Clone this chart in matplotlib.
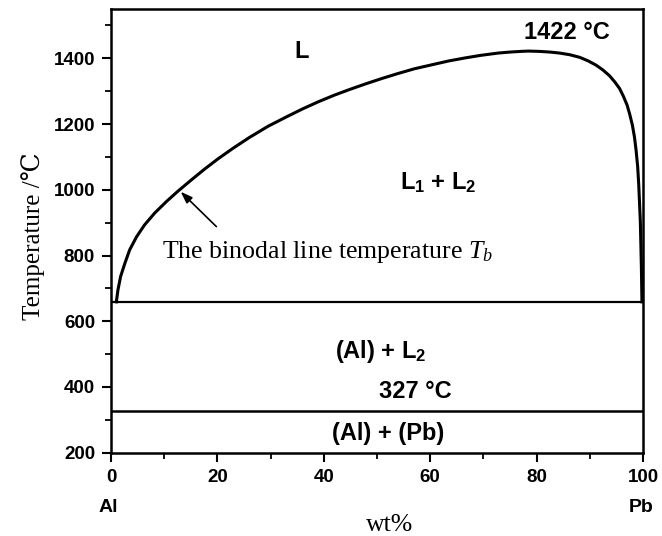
import matplotlib
matplotlib.use('Agg')
import matplotlib.pyplot as plt
from matplotlib.ticker import MultipleLocator

plt.rcParams['font.family'] = ['Liberation Sans', 'DejaVu Sans']
plt.rcParams['font.weight'] = 'bold'
plt.rcParams['mathtext.fontset'] = 'custom'
plt.rcParams['mathtext.it'] = 'Liberation Serif:style=italic:weight=normal'
plt.rcParams['mathtext.rm'] = 'Liberation Serif:weight=normal'
plt.rcParams['mathtext.sf'] = 'Liberation Sans:weight=bold'

# binodal (liquid miscibility gap), wt% Pb vs T in C
binodal_wt = [1.0, 1.3, 1.8, 2.6, 3.5, 4.8, 6.3, 8.2, 10.4, 12.6, 15.1, 17.6, 20.1,
              23.0, 26.0, 29.5, 33.0, 36.0, 39.0, 42.0, 45.0, 48.0, 51.0, 54.0, 57.0,
              60.5, 63.5, 66.5, 69.5, 72.8, 75.0, 77.0, 78.5, 80.6, 82.5, 84.3, 86.2,
              88.1, 89.7, 91.2, 92.5, 93.7, 94.7, 95.6, 96.3, 97.0, 97.5, 98.0, 98.4,
              98.7, 99.0, 99.2, 99.5, 99.7, 99.8]
binodal_T = [659, 695, 736, 776, 817, 857, 893, 929, 964, 996, 1030, 1063, 1094,
             1127, 1159, 1193, 1222, 1246, 1268, 1288, 1306, 1323, 1339, 1354, 1368,
             1381, 1392, 1401, 1409, 1416, 1419, 1421, 1422, 1421, 1419, 1416, 1411,
             1403, 1392, 1379, 1364, 1347, 1328, 1308, 1285, 1258, 1230, 1197, 1160,
             1120, 1070, 1015, 903, 761, 659]

monotectic_T = 659
eutectic_T = 327

x_ticks = [0, 20, 40, 60, 80, 100]
y_ticks = [200, 400, 600, 800, 1000, 1200, 1400]

fig = plt.figure(figsize=(6.62, 5.36), dpi=100)
ax = fig.add_axes([0.1677, 0.1554, 0.8036, 0.8278])

ax.plot(binodal_wt, binodal_T, color='k', lw=2.2, solid_joinstyle='round')
ax.plot([0, 100], [monotectic_T, monotectic_T], color='k', lw=1.6)
ax.plot([0, 100], [eutectic_T, eutectic_T], color='k', lw=1.8)

ax.set_xlim(0, 100)
ax.set_ylim(200, 1550)
ax.set_xticks(x_ticks)
ax.set_yticks(y_ticks)
ax.xaxis.set_minor_locator(MultipleLocator(10))
ax.yaxis.set_minor_locator(MultipleLocator(100))
ax.tick_params(which='major', direction='out', length=6.5, width=1.5, labelsize=13.5, pad=5)
ax.tick_params(which='minor', direction='out', length=4, width=1.3)
ax.tick_params(top=False, right=False, which='both')
for s in ax.spines.values():
    s.set_linewidth(1.8)

# phase region labels
ax.text(35.8, 1420, 'L', fontsize=17, fontweight='bold', ha='center', va='center')
ax.text(85.7, 1479, '1422 °C', fontsize=17, fontweight='bold', ha='center', va='center')
ax.text(61.5, 1020, r'L$_\mathsf{1}$ + L$_\mathsf{2}$', fontsize=17, fontweight='bold',
        ha='center', va='center')
ax.text(50.7, 507, r'(Al) + L$_\mathsf{2}$', fontsize=17, fontweight='bold', ha='center', va='center')
ax.text(57.2, 386, '327 °C', fontsize=17, fontweight='bold', ha='center', va='center')
ax.text(52.1, 257, '(Al) + (Pb)', fontsize=17, fontweight='bold', ha='center', va='center')

ax.text(9.6, 793, r'The binodal line temperature $T_b$', fontsize=18.6,
        family='Liberation Serif', fontweight='normal', ha='left', va='baseline')
ax.annotate('', xy=(13.1, 994), xytext=(19.8, 888),
            arrowprops=dict(arrowstyle='-|>,head_length=0.7,head_width=0.25',
                            color='k', lw=1.2, shrinkA=0, shrinkB=0))

ax.text(-0.6, 33, 'Al', fontsize=14, fontweight='bold', ha='center', va='center', clip_on=False)
ax.text(99.7, 33, 'Pb', fontsize=14, fontweight='bold', ha='center', va='center', clip_on=False)
ax.text(52.3, -20, 'wt%', fontsize=18.5, family='Liberation Serif', fontweight='normal',
        ha='center', va='center', clip_on=False)

fig.text(0.05, 0.56, 'Temperature /℃', rotation=90, fontsize=18, fontweight='normal',
         family=['Liberation Serif', 'DejaVu Serif'], ha='center', va='center')

fig.savefig('out.png', dpi=100)
